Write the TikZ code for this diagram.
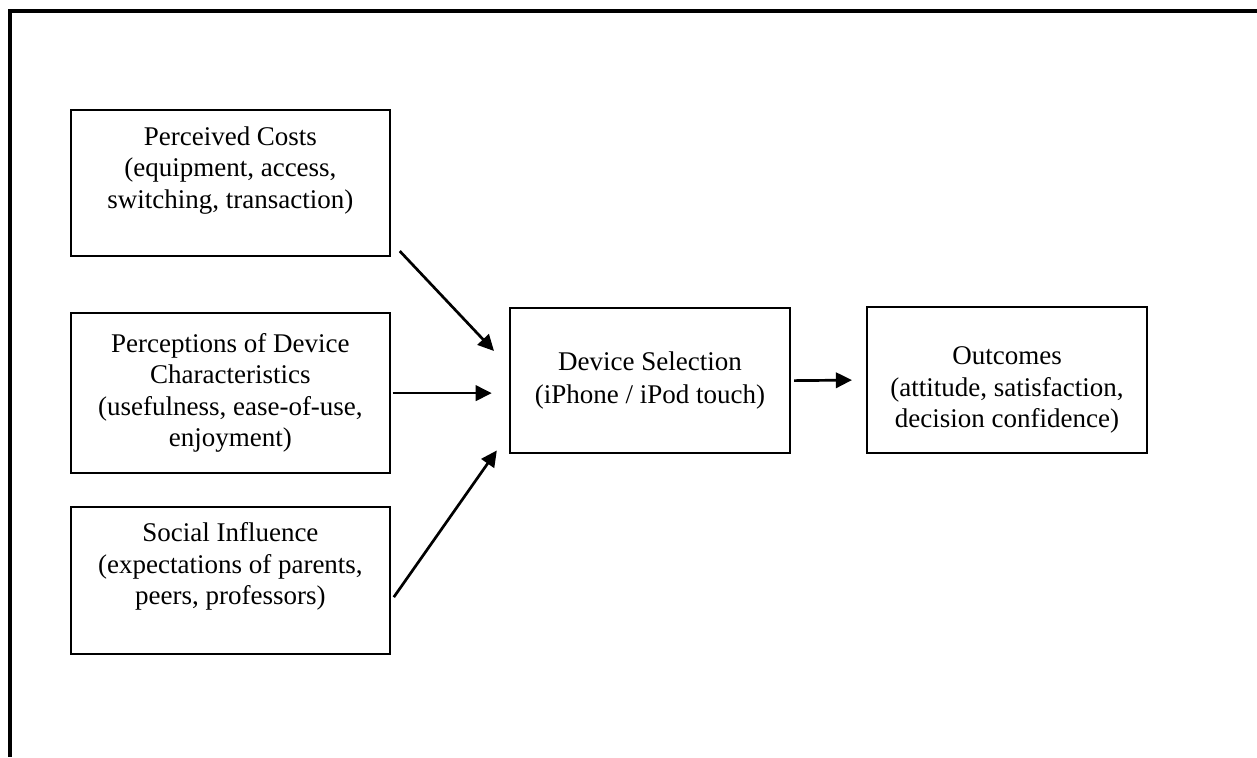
\documentclass[tikz,border=0pt]{standalone}
\usepackage{fontspec}
\setmainfont{Liberation Serif}
\usetikzlibrary{arrows.meta,positioning}

\begin{document}
\begin{tikzpicture}[
  every node/.style={font=\fontsize{12pt}{14pt}\selectfont},
  factor/.style={draw,line width=0.9pt,minimum width=4.98cm,align=center,inner sep=2pt},
  result/.style={draw,line width=0.9pt,minimum width=4.375cm,minimum height=2.27cm,
                 align=center,inner sep=2pt},
  arr/.style={-{Triangle[length=0.25cm,width=0.24cm]},line width=1.2pt},
]
  \useasboundingbox (0,0) rectangle (19.64,11.83);

  % Outer frame (open at right and bottom)
  \draw[line width=1.6pt] (19.64,11.66) -- (0.156,11.66) -- (0.156,0);

  % Antecedents (left column)
  \node[factor,minimum height=2.28cm,text depth=14pt] (cost) at (3.6,8.969)
    {Perceived Costs\\(equipment, access,\\switching, transaction)};
  \node[factor,minimum height=2.5cm] (char) at (3.6,5.6875)
    {Perceptions of Device\\Characteristics\\(usefulness, ease-of-use,\\enjoyment)};
  \node[factor,minimum height=2.3cm,text depth=15pt] (social) at (3.6,2.758)
    {Social Influence\\(expectations of parents,\\peers, professors)};

  % Selection and outcomes
  \node[result] (sel) at (10.156,5.883) {Device Selection\\[1pt](iPhone / iPod touch)};
  \node[result,text height=45pt] (out) at (15.734,5.891)
    {Outcomes\\(attitude, satisfaction,\\decision confidence)};

  % Arrows into selection
  \draw[arr] ([shift={(0.14,0.094)}]cost.south east) -- ([shift={(-0.234,-0.688)}]sel.north west);
  \draw[arr] ([xshift=0.03cm]char.east) -- ([xshift=-0.27cm]char.east -| sel.west);
  \draw[arr] ([shift={(0.047,-0.258)}]social.east) -- ([shift={(-0.19,0.06)}]sel.south west);

  % Selection -> outcomes
  \draw[arr] ([xshift=0.05cm]sel.east) -- ([xshift=-0.22cm]out.west);
\end{tikzpicture}
\end{document}
